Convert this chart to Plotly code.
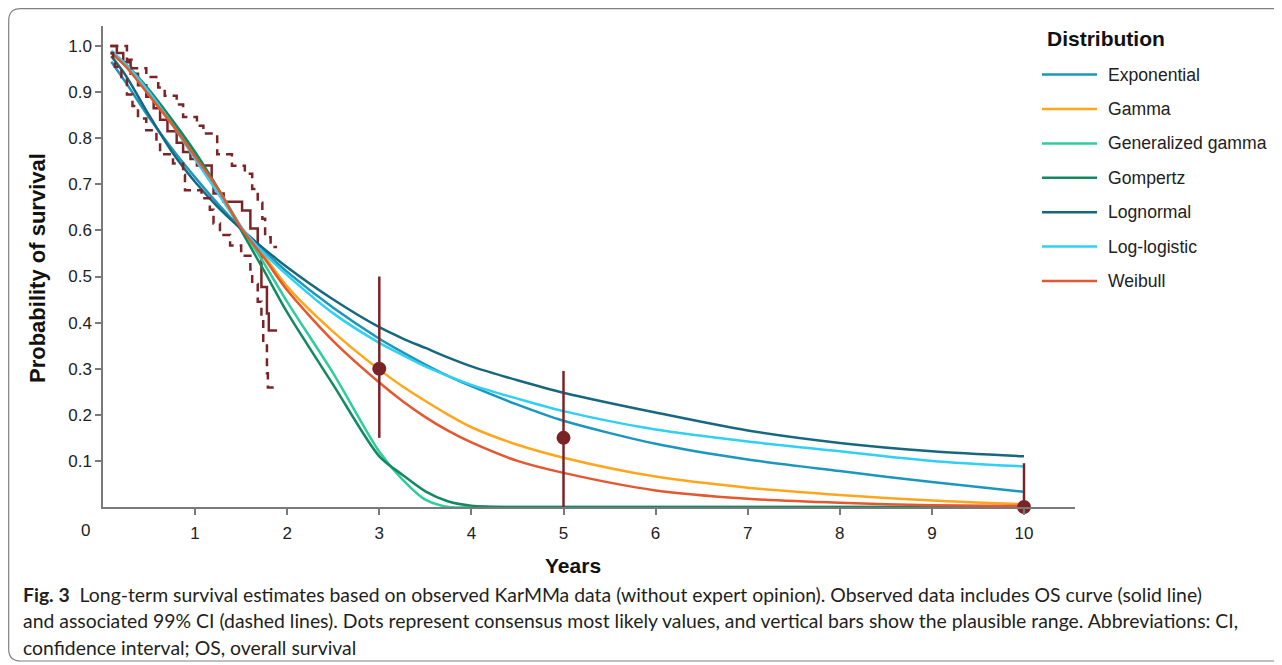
import plotly.graph_objects as go

# ---------------- data ----------------
years = [0.09, 0.25, 0.5, 0.75, 1.0, 1.25, 1.5, 1.75, 2.0, 2.5, 3.0, 3.25, 3.5, 3.75,
         4.0, 4.5, 5.0, 6.0, 7.0, 8.0, 9.0, 10.0]

exponential = [0.966, 0.92, 0.845, 0.777, 0.715, 0.657, 0.604, 0.555, 0.51, 0.432, 0.365,
               0.336, 0.309, 0.284, 0.262, 0.222, 0.187, 0.137, 0.103, 0.078, 0.054, 0.033]
gamma = [0.985, 0.955, 0.895, 0.83, 0.76, 0.69, 0.607, 0.545, 0.478, 0.38, 0.298,
         0.262, 0.23, 0.2, 0.173, 0.135, 0.107, 0.066, 0.042, 0.026, 0.014, 0.006]
gen_gamma = [0.985, 0.955, 0.9, 0.835, 0.765, 0.69, 0.607, 0.528, 0.445, 0.29, 0.12,
             0.06, 0.016, 0.0, 0.0, 0.0, 0.0, 0.0, 0.0, 0.0, 0.0, 0.0]
gompertz = [0.985, 0.96, 0.905, 0.84, 0.77, 0.69, 0.6, 0.512, 0.422, 0.265, 0.11,
            0.07, 0.034, 0.012, 0.003, 0.0, 0.0, 0.0, 0.0, 0.0, 0.0, 0.0]
lognormal = [0.978, 0.935, 0.85, 0.77, 0.705, 0.65, 0.603, 0.56, 0.52, 0.45, 0.39,
             0.366, 0.345, 0.324, 0.305, 0.275, 0.248, 0.205, 0.166, 0.139, 0.121, 0.11]
log_logistic = [0.99, 0.96, 0.9, 0.83, 0.755, 0.68, 0.607, 0.55, 0.503, 0.42, 0.356,
                0.33, 0.305, 0.284, 0.265, 0.235, 0.208, 0.168, 0.142, 0.121, 0.1, 0.088]
weibull = [0.985, 0.955, 0.893, 0.83, 0.76, 0.69, 0.605, 0.54, 0.47, 0.36, 0.27,
           0.23, 0.195, 0.165, 0.14, 0.1, 0.074, 0.036, 0.018, 0.009, 0.004, 0.002]

km_t = [0.08, 0.15, 0.22, 0.30, 0.38, 0.47, 0.55, 0.62, 0.70, 0.80, 0.87, 0.95, 1.02,
        1.18, 1.20, 1.31, 1.51, 1.60, 1.68, 1.72, 1.78, 1.80, 1.89]
km_s = [1.0, 0.985, 0.965, 0.94, 0.915, 0.89, 0.865, 0.84, 0.815, 0.79, 0.77, 0.755, 0.741,
        0.705, 0.68, 0.662, 0.643, 0.604, 0.556, 0.477, 0.42, 0.383, 0.383]

ci_up_t = [0.08, 0.26, 0.31, 0.47, 0.60, 0.67, 0.80, 0.87, 1.02, 1.09, 1.24, 1.40, 1.54,
           1.62, 1.68, 1.73, 1.76, 1.82, 1.89]
ci_up_s = [1.0, 0.97, 0.952, 0.933, 0.91, 0.892, 0.873, 0.846, 0.827, 0.81, 0.765, 0.74,
           0.723, 0.69, 0.66, 0.625, 0.585, 0.564, 0.564]

ci_lo_t = [0.08, 0.11, 0.13, 0.20, 0.26, 0.32, 0.38, 0.47, 0.58, 0.62, 0.76, 0.87, 0.89,
           1.07, 1.16, 1.20, 1.27, 1.38, 1.50, 1.60, 1.62, 1.68, 1.72, 1.74, 1.78, 1.79, 1.89]
ci_lo_s = [0.985, 0.965, 0.955, 0.933, 0.895, 0.87, 0.843, 0.817, 0.79, 0.765, 0.745, 0.72,
           0.687, 0.67, 0.645, 0.615, 0.59, 0.567, 0.545, 0.515, 0.484, 0.445, 0.41, 0.357,
           0.29, 0.259, 0.259]

expert_years = [3, 5, 10]
expert_mid = [0.30, 0.15, 0.0]
expert_lo = [0.15, 0.0, 0.0]
expert_hi = [0.50, 0.295, 0.095]

x_ticks = [1, 2, 3, 4, 5, 6, 7, 8, 9, 10]
y_ticks = [0.1, 0.2, 0.3, 0.4, 0.5, 0.6, 0.7, 0.8, 0.9, 1.0]
y_tick_text = ["0.1", "0.2", "0.3", "0.4", "0.5", "0.6", "0.7", "0.8", "0.9", "1.0"]

series_names = ["Exponential", "Gamma", "Generalized gamma", "Gompertz", "Lognormal",
                "Log-logistic", "Weibull"]
series_values = [exponential, gamma, gen_gamma, gompertz, lognormal, log_logistic, weibull]
series_colors = ["#1b96bd", "#ffa61c", "#2fcc9c", "#13895f", "#17687f", "#2fd0f4", "#e4582f"]

caption_lines = [
    "<b>Fig. 3</b>  Long-term survival estimates based on observed KarMMa data (without expert opinion). Observed data includes OS curve (solid line)",
    "and associated 99% CI (dashed lines). Dots represent consensus most likely values, and vertical bars show the plausible range. Abbreviations: CI,",
    "confidence interval; OS, overall survival",
]

# ---------------- geometry (reference-page pixels) ----------------
OFF = 8                      # page body margin
W, H = 1282 - 2 * OFF, 665 - OFF
L, R, T, B = 103, 1075, 26, 507
PW, PH = R - L, B - T


def px(x):
    return (x - L) / PW


def py(y):
    return (B - y) / PH


RED = "#7b2427"
FONT = "Liberation Sans, Arial, sans-serif"

fig = go.Figure()

fig.add_trace(go.Scatter(x=km_t, y=km_s, mode="lines", line=dict(color=RED, width=2.5, shape="hv"),
                         showlegend=False, hoverinfo="skip"))

for name, vals, col in zip(series_names, series_values, series_colors):
    fig.add_trace(go.Scatter(x=years, y=vals, mode="lines", name=name,
                             line=dict(color=col, width=2.5, shape="spline", smoothing=0.8),
                             showlegend=False))

for t, s in [(ci_up_t, ci_up_s), (ci_lo_t, ci_lo_s)]:
    fig.add_trace(go.Scatter(x=t, y=s, mode="lines",
                             line=dict(color=RED, width=2.5, shape="hv", dash="8px,6px"),
                             showlegend=False, hoverinfo="skip"))

err_plus = [h - m for h, m in zip(expert_hi, expert_mid)]
err_minus = [m - l for m, l in zip(expert_mid, expert_lo)]
fig.add_trace(go.Scatter(x=expert_years, y=expert_mid, mode="markers",
                         marker=dict(color=RED, size=14),
                         error_y=dict(type="data", symmetric=False, array=err_plus,
                                      arrayminus=err_minus, color=RED, thickness=2.5, width=0),
                         cliponaxis=False, showlegend=False))

fig.update_xaxes(range=[0, (R - L) / 92.1], tickvals=x_ticks, ticks="outside", ticklen=6,
                 tickwidth=1.5, tickcolor="#7a7a7a", showline=True, linecolor="#7a7a7a",
                 linewidth=1.5, showgrid=False, zeroline=False, ticklabelstandoff=4,
                 tickfont=dict(family=FONT, size=17, color="#222"))
fig.update_yaxes(range=[0, PH / 461.0], tickvals=y_ticks, ticktext=y_tick_text, ticks="outside",
                 ticklen=6, tickwidth=1.5, tickcolor="#7a7a7a", showline=True,
                 linecolor="#7a7a7a", linewidth=1.5, showgrid=False, zeroline=False,
                 tickfont=dict(family=FONT, size=17, color="#222"))

ann = []
ann.append(dict(x=px(85), y=py(530), xref="paper", yref="paper", text="0", showarrow=False,
                font=dict(family=FONT, size=17, color="#222"), xanchor="center", yanchor="middle"))
ann.append(dict(x=px(573), y=py(565), xref="paper", yref="paper", text="<b>Years</b>",
                showarrow=False, font=dict(family=FONT, size=21, color="#111"),
                xanchor="center", yanchor="middle"))
ann.append(dict(x=px(37), y=py(268), xref="paper", yref="paper",
                text="<b>Probability of survival</b>", textangle=-90, showarrow=False,
                font=dict(family=FONT, size=22, color="#111"), xanchor="center", yanchor="middle"))
ann.append(dict(x=px(1045), y=py(38), xref="paper", yref="paper", text="<b>Distribution</b>",
                showarrow=False, font=dict(family=FONT, size=21, color="#111"),
                xanchor="left", yanchor="middle"))

shapes = []
for i, (name, col) in enumerate(zip(series_names, series_colors)):
    yy = 74.6 + i * 34.4
    shapes.append(dict(type="line", xref="paper", yref="paper", x0=px(1042), x1=px(1097),
                       y0=py(yy), y1=py(yy), line=dict(color=col, width=2.5)))
    ann.append(dict(x=px(1106), y=py(yy), xref="paper", yref="paper", text=name,
                    showarrow=False, font=dict(family=FONT, size=17.6, color="#222"),
                    xanchor="left", yanchor="middle"))

for i, line in enumerate(caption_lines):
    ann.append(dict(x=px(21), y=py(594 + i * 26.7), xref="paper", yref="paper", text=line,
                    showarrow=False, font=dict(family="Lato, sans-serif", size=19.4, color="#231f20"),
                    xanchor="left", yanchor="middle"))

# outer rounded border
r = 12
x0, x1, y0, y1 = OFF + 0.7, 1300, OFF + 0.7, 661
path = (f"M {px(x1)},{py(y0)} L {px(x0 + r)},{py(y0)} Q {px(x0)},{py(y0)} {px(x0)},{py(y0 + r)} "
        f"L {px(x0)},{py(y1 - r)} Q {px(x0)},{py(y1)} {px(x0 + r)},{py(y1)} L {px(x1)},{py(y1)}")
shapes.append(dict(type="path", xref="paper", yref="paper", path=path,
                   line=dict(color="#808080", width=1.2)))

fig.update_layout(width=W, height=H,
                  margin=dict(l=L - OFF, r=(W + OFF) - R, t=T - OFF, b=(H + OFF) - B),
                  plot_bgcolor="white", paper_bgcolor="white", annotations=ann, shapes=shapes,
                  showlegend=False)

fig.write_html("out.html")
